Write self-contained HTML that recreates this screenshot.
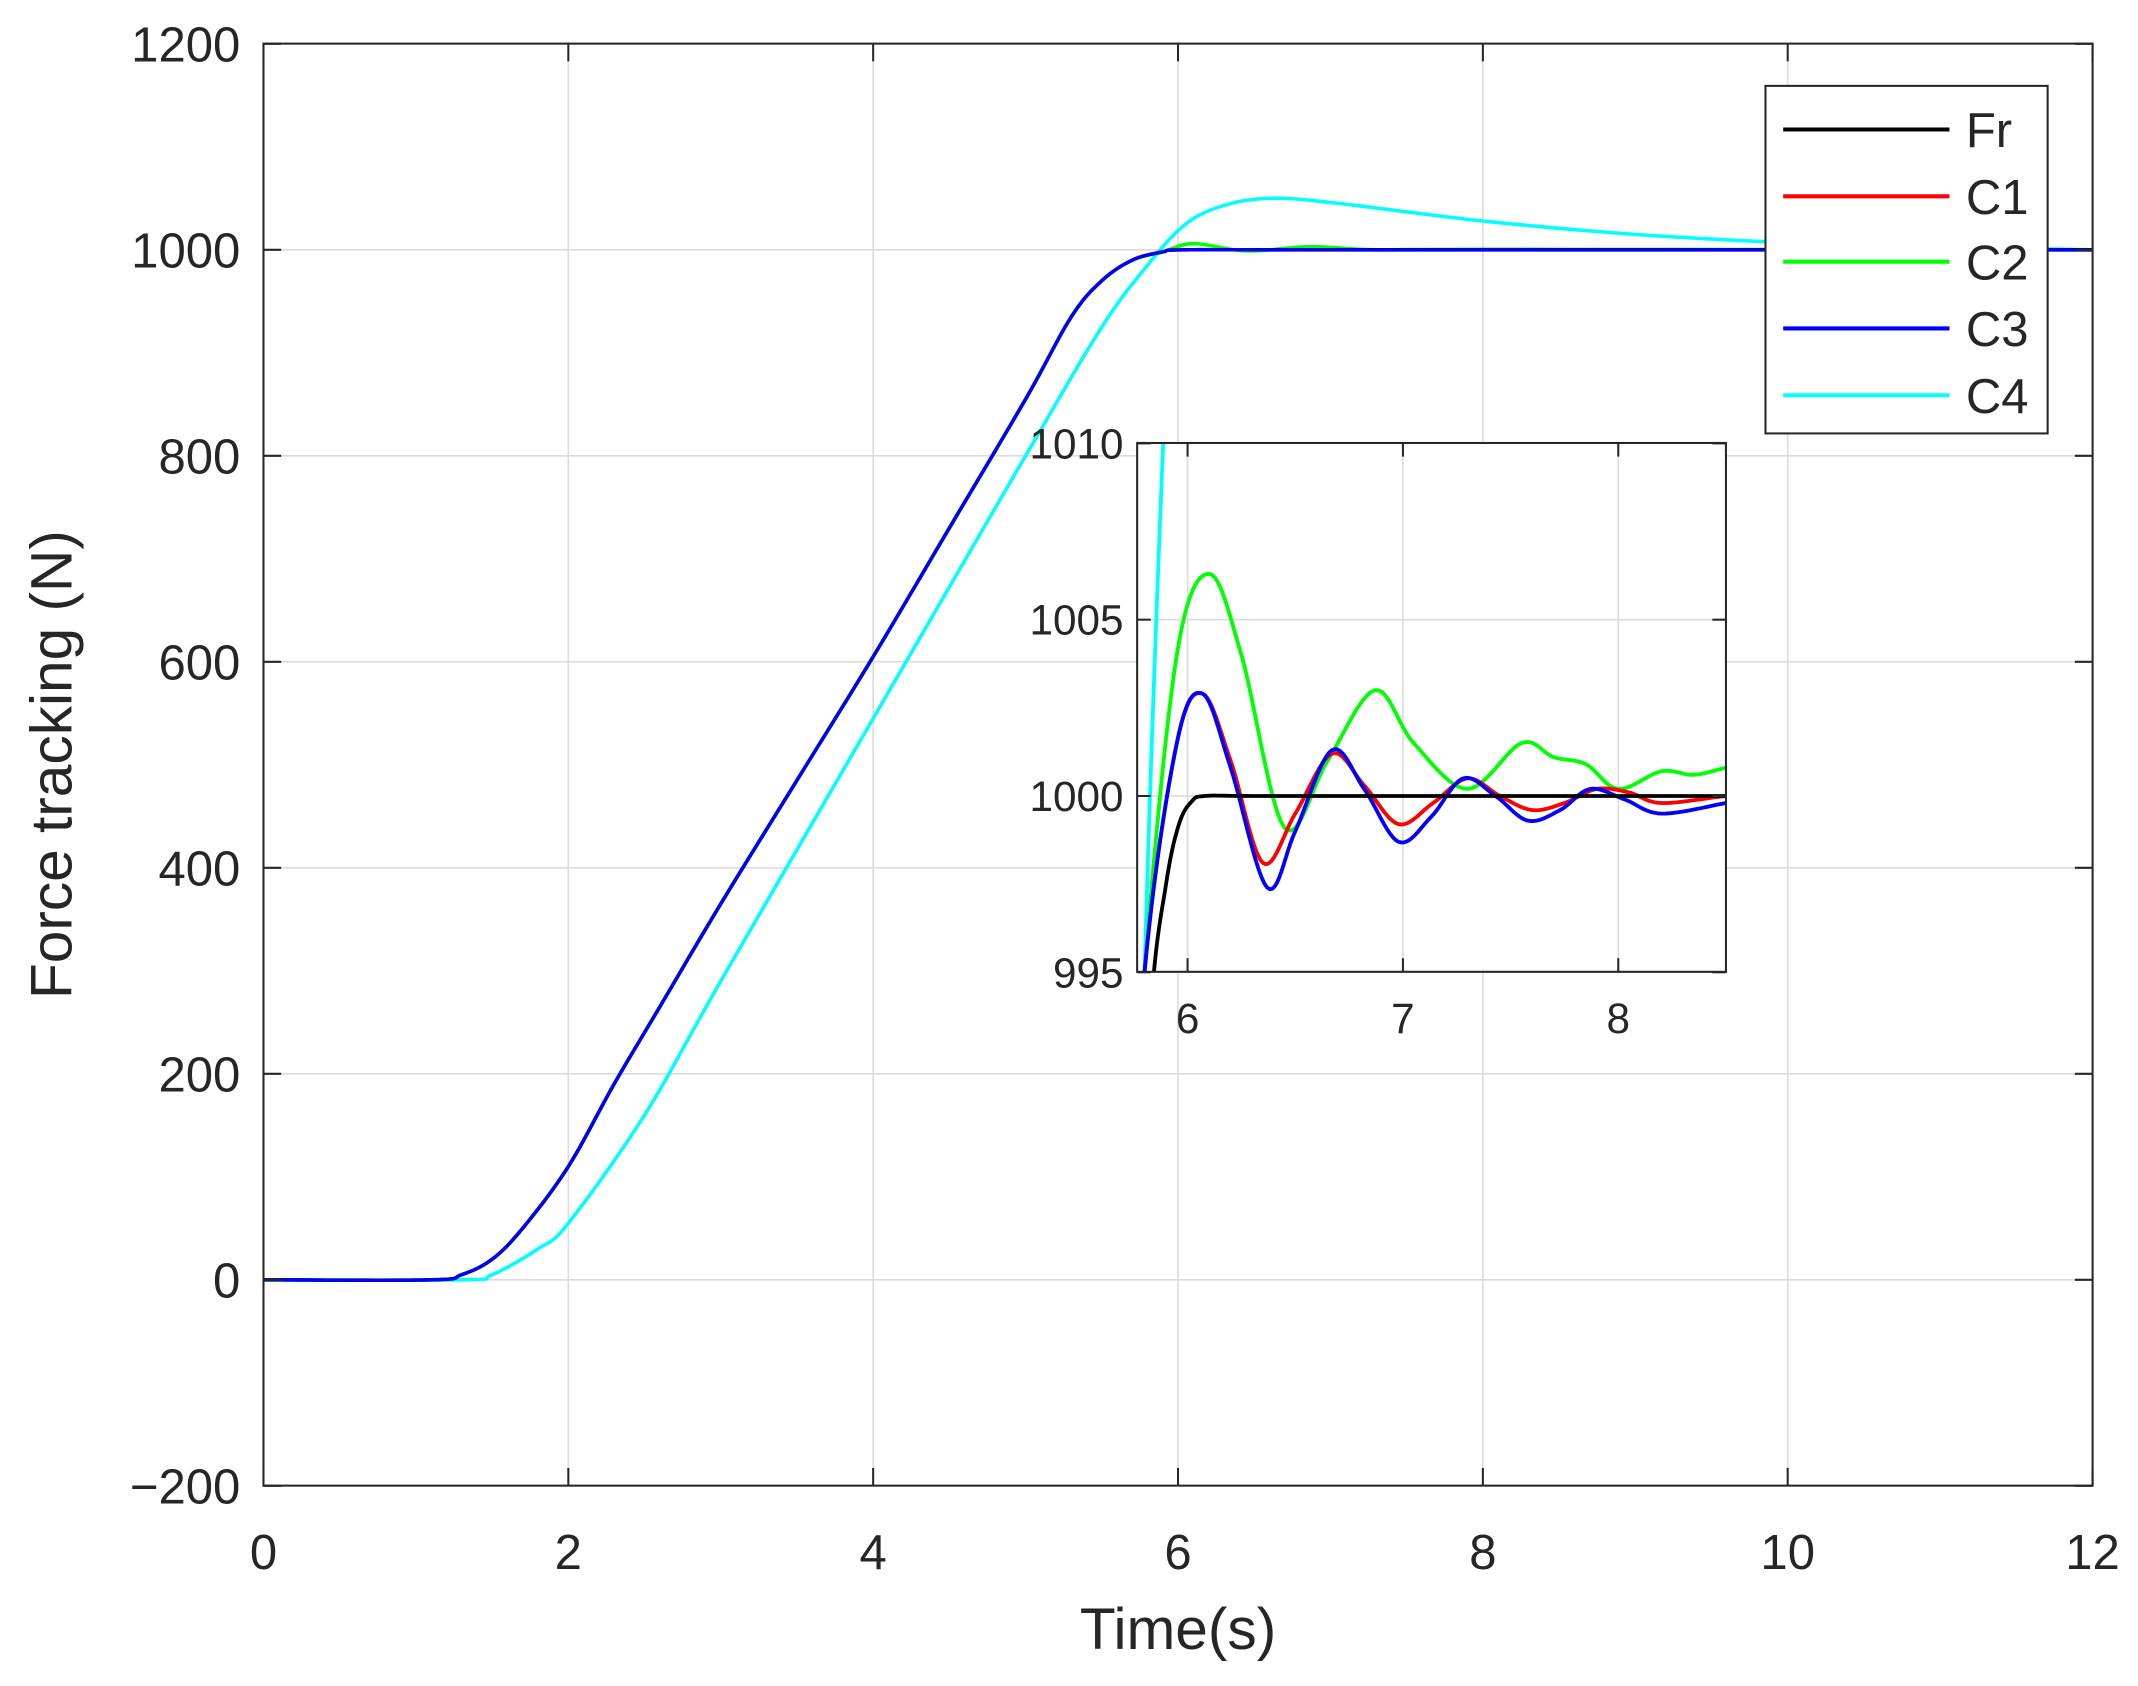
<!DOCTYPE html>
<html><head><meta charset="utf-8"><style>
html,body{margin:0;padding:0;background:#fff;overflow:hidden;width:2138px;height:1686px;position:relative}
svg{display:block;position:absolute;left:0;top:0}
svg text{font-family:"Liberation Sans",Arial,sans-serif;fill:#262626}
</style></head><body>
<svg id="s" width="2138" height="1686" viewBox="0 0 1568 1237" xmlns="http://www.w3.org/2000/svg">
<rect x="0" y="0" width="1568" height="1237" fill="#fff"/>
<g id="grid" stroke="#dcdcdc" stroke-width="1.2"></g>
<g id="main" fill="none" stroke-width="2.6" stroke-linejoin="round"></g>
<rect x="193" y="32" width="1342" height="1058" fill="none" stroke="#262626" stroke-width="1.5"/>
<g id="ticks" stroke="#262626" stroke-width="1.5"></g>
<g id="labels" font-size="36"></g>
<text x="864" y="1210" font-size="43" text-anchor="middle">Time(s)</text>
<text transform="translate(52,561) rotate(-90)" font-size="43" text-anchor="middle">Force tracking (N)</text>
<rect x="834" y="325" width="432" height="388" fill="#fff"/>
<defs><clipPath id="ic"><rect x="834" y="325" width="432" height="388"/></clipPath></defs>
<g id="igrid" stroke="#dcdcdc" stroke-width="1.2"></g>
<g id="inset" fill="none" stroke-width="2.8" clip-path="url(#ic)" stroke-linejoin="round"></g>
<rect x="834" y="325" width="432" height="388" fill="none" stroke="#262626" stroke-width="1.5"/>
<g id="iticks" stroke="#262626" stroke-width="1.5"></g>
<g id="ilabels" font-size="31"></g>
<rect x="1295" y="63" width="207" height="255" fill="#fff" stroke="#262626" stroke-width="1.5"/>
<g stroke-width="3">
<line x1="1308" y1="95" x2="1430" y2="95" stroke="#000"/>
<line x1="1308" y1="144" x2="1430" y2="144" stroke="#f00"/>
<line x1="1308" y1="192" x2="1430" y2="192" stroke="#0f0"/>
<line x1="1308" y1="241" x2="1430" y2="241" stroke="#00f"/>
<line x1="1308" y1="290" x2="1430" y2="290" stroke="#0ff"/>
</g>
<g font-size="36">
<text x="1442" y="108">Fr</text><text x="1442" y="157">C1</text><text x="1442" y="205">C2</text>
<text x="1442" y="254">C3</text><text x="1442" y="303">C4</text>
</g>
</svg>
<script>
var NS="http://www.w3.org/2000/svg";
function el(p,t,a,txt){var e=document.createElementNS(NS,t);for(var k in a)e.setAttribute(k,a[k]);if(txt!=null)e.textContent=txt;document.getElementById(p).appendChild(e);return e;}
var X=function(t){return 193+t*111.83}, Y=function(v){return 939-v*0.7557};
for(var t=0;t<=12;t+=2){var x=X(t);if(t>0&&t<12)el("grid","line",{x1:x,y1:32,x2:x,y2:1090});
 el("ticks","line",{x1:x,y1:1090,x2:x,y2:1077});el("ticks","line",{x1:x,y1:32,x2:x,y2:45});
 el("labels","text",{x:x,y:1151,"text-anchor":"middle"},String(t));}
for(var v=-200;v<=1200;v+=200){var y=Y(v);if(v>-200&&v<1200)el("grid","line",{x1:193,y1:y,x2:1535,y2:y});
 el("ticks","line",{x1:193,y1:y,x2:206,y2:y});el("ticks","line",{x1:1535,y1:y,x2:1522,y2:y});
 el("labels","text",{x:176,y:y+13,"text-anchor":"end"},v<0?"\u2212"+(-v):String(v));}
function cr(pts,fx,fy){var s="M"+fx(pts[0][0]).toFixed(2)+","+fy(pts[0][1]).toFixed(2);
 for(var i=0;i<pts.length-1;i++){var p0=pts[Math.max(i-1,0)],p1=pts[i],p2=pts[i+1],p3=pts[Math.min(i+2,pts.length-1)];
  for(var k=1;k<=12;k++){var u=k/12,u2=u*u,u3=u2*u;
   var f=function(a,b,c,d){return 0.5*(2*b+(-a+c)*u+(2*a-5*b+4*c-d)*u2+(-a+3*b-3*c+d)*u3)};
   s+="L"+fx(f(p0[0],p1[0],p2[0],p3[0])).toFixed(2)+","+fy(f(p0[1],p1[1],p2[1],p3[1])).toFixed(2);}}
 return s;}
var fr=[[0,0],[1.1,0],[1.3,5],[1.5,20],[1.7,50],[2,110],[2.3,190],[2.6,265],[3,365],[3.5,485],[4,605],[4.5,730],[5,855],[5.3,935],[5.5,970],[5.7,990],[5.9,998],[6.05,1000],[7,1000],[12,1000]];
var c2=fr.map(function(p){return p.slice()});c2.splice(17,3,[6.1,1006],[6.45,999],[6.87,1003],[7.3,1000],[8,1000.5],[12,1000]);
var c4=[[0,0],[1.3,0],[1.5,5],[1.8,30],[2,55],[2.5,160],[3,290],[4,545],[5,800],[5.5,925],[5.8,985],[6.05,1025],[6.3,1043],[6.6,1050],[7,1046],[8,1028],[9,1015],[10,1007],[11,1003],[12,1000]];
el("main","path",{d:cr(c4,X,Y),stroke:"#0ff"});
el("main","path",{d:cr(c2,X,Y),stroke:"#0f0"});
el("main","path",{d:cr(fr,X,Y),stroke:"#000"});
el("main","path",{d:cr(fr,X,Y),stroke:"#f00","stroke-width":2});
el("main","path",{d:cr(fr,X,Y),stroke:"#00f","stroke-width":2.4});
var IX=function(t){return 871+(t-6)*158}, IY=function(v){return 584-(v-1000)*25.87};
[6,7,8].forEach(function(t){var x=IX(t);el("igrid","line",{x1:x,y1:325,x2:x,y2:713});
 el("iticks","line",{x1:x,y1:713,x2:x,y2:703});el("iticks","line",{x1:x,y1:325,x2:x,y2:335});
 el("ilabels","text",{x:x,y:758,"text-anchor":"middle"},String(t));});
[995,1000,1005,1010].forEach(function(v){var y=IY(v);el("igrid","line",{x1:834,y1:y,x2:1266,y2:y});
 el("iticks","line",{x1:834,y1:y,x2:844,y2:y});el("iticks","line",{x1:1266,y1:y,x2:1256,y2:y});
 el("ilabels","text",{x:824,y:y+11,"text-anchor":"end"},String(v));});
var ifr=[[5.75,985],[5.83,994],[5.9,997.5],[5.96,999.2],[6.02,999.85],[6.08,1000],[6.3,1000],[7,1000],[8.6,1000]];
var ic2=[[5.7,985],[5.8,995],[5.95,1004],[6.1,1006.3],[6.25,1004],[6.45,999.1],[6.65,1001],[6.87,1003],[7.05,1001.5],[7.3,1000.2],[7.55,1001.5],[7.7,1001.1],[7.85,1000.9],[8.0,1000.2],[8.2,1000.7],[8.35,1000.6],[8.5,1000.8],[8.6,1000.9]];
var ic1=[[5.7,985],[5.8,995],[5.95,1001.5],[6.07,1002.9],[6.2,1001],[6.35,998.1],[6.5,999.5],[6.67,1001.2],[6.82,1000.3],[6.98,999.2],[7.14,999.8],[7.3,1000.5],[7.45,1000],[7.6,999.6],[7.75,999.8],[7.9,1000.2],[8.05,1000.1],[8.2,999.8],[8.5,1000],[8.6,1000]];
var ic3=[[5.7,985],[5.8,995],[5.95,1001.5],[6.07,1002.9],[6.2,1000.8],[6.37,997.4],[6.5,999],[6.67,1001.3],[6.82,1000.2],[6.98,998.7],[7.13,999.4],[7.28,1000.5],[7.43,1000],[7.58,999.3],[7.73,999.6],[7.87,1000.2],[8.03,999.9],[8.2,999.5],[8.5,999.8],[8.6,999.9]];
var ic4=[[5.7,970],[5.8,995],[5.9,1012],[6.0,1025]];
el("inset","path",{d:cr(ic4,IX,IY),stroke:"#0ff"});
el("inset","path",{d:cr(ic2,IX,IY),stroke:"#0f0"});
el("inset","path",{d:cr(ic1,IX,IY),stroke:"#f00"});
el("inset","path",{d:cr(ic3,IX,IY),stroke:"#00f"});
el("inset","path",{d:cr(ifr,IX,IY),stroke:"#000"});
</script>
</body></html>
